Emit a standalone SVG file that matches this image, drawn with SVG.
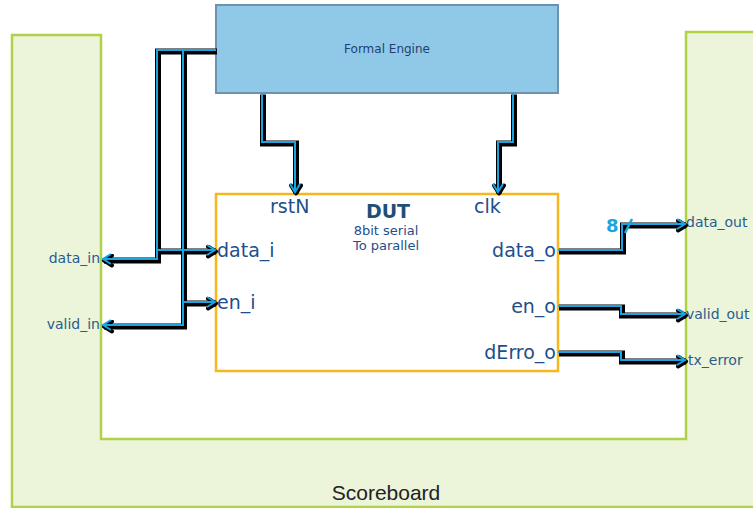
<svg xmlns="http://www.w3.org/2000/svg" xmlns:xlink="http://www.w3.org/1999/xlink" width="753" height="508" viewBox="0 0 753 508">
  <style>
    .board { fill: #ecf4d9; stroke: #afd248; stroke-width: 2.5; }
    .engine { fill: #90c9e8; stroke: #6b93ae; stroke-width: 2; }
    .dut { fill: #ffffff; stroke: #f7b81e; stroke-width: 2.5; }
    .shadow { fill: none; stroke: #000000; stroke-width: 6; stroke-linejoin: miter; }
    .line { fill: none; stroke: #1aa3e3; stroke-width: 2; stroke-linejoin: miter; }
    .t { font-family: "DejaVu Sans", Verdana, sans-serif; }
    .port { font-size: 19px; fill: #1f4e8a; }
    .sig { font-size: 14px; fill: #2b5c8e; }
  </style>
  <defs>
    <marker id="headBlack" viewBox="0 0 14 14" refX="11" refY="7" markerWidth="14" markerHeight="14" markerUnits="userSpaceOnUse" orient="auto">
      <path d="M3,2 L11,7 L3,12" fill="none" stroke="#000" stroke-width="4" stroke-linecap="round" stroke-linejoin="round"/>
    </marker>
    <marker id="headBlue" viewBox="0 0 14 14" refX="11" refY="7" markerWidth="14" markerHeight="14" markerUnits="userSpaceOnUse" orient="auto">
      <path d="M3,2 L11,7 L3,12" fill="none" stroke="#1aa3e3" stroke-width="2"/>
    </marker>
    <path id="w-rst" d="M262,93 V142 H295 V192"/>
    <path id="w-clk" d="M513,93 V142 H498 V192"/>
    <path id="w-din" d="M216,50 H157 V259 H103"/>
    <path id="w-vin" d="M183,50 V325 H103"/>
    <path id="w-di" d="M158,250 H215"/>
    <path id="w-en" d="M183,302 H215"/>
    <path id="w-do" d="M558,250 H622 V224 H685"/>
    <path id="w-eo" d="M558,306 H621 V314 H685"/>
    <path id="w-de" d="M558,352 H621 V360 H685"/>
  </defs>

  <!-- scoreboard U-shaped frame -->
  <g id="scoreboard">
    <path class="board" d="M12,35 H101 V439 H686 V32 H756 V507 H12 Z"/>
    <text x="386" y="500" text-anchor="middle" font-family="Liberation Sans, Arial, sans-serif" font-size="21" fill="#222">Scoreboard</text>
    <text class="t sig" x="100" y="263" text-anchor="end">data_in</text>
    <text class="t sig" x="100" y="329" text-anchor="end">valid_in</text>
    <text class="t sig" x="686" y="227">data_out</text>
    <text class="t sig" x="686" y="319">valid_out</text>
    <text class="t sig" x="688" y="365">tx_error</text>
  </g>

  <!-- formal engine -->
  <g id="formal-engine">
    <rect class="engine" x="216" y="5" width="342" height="88"/>
    <text class="t" x="387" y="53" text-anchor="middle" font-size="12" fill="#1f3f70">Formal Engine</text>
  </g>

  <!-- device under test -->
  <g id="dut">
    <rect class="dut" x="216" y="194" width="342" height="177"/>
    <text class="t" x="388" y="218" text-anchor="middle" font-size="19" font-weight="bold" fill="#1f4e79">DUT</text>
    <text class="t" x="386" y="235" text-anchor="middle" font-size="13" fill="#1f4e8a">8bit serial</text>
    <text class="t" x="386" y="250" text-anchor="middle" font-size="13" fill="#1f4e8a">To parallel</text>
    <text class="t port" x="270" y="213">rstN</text>
    <text class="t port" x="474" y="213">clk</text>
    <text class="t port" x="217" y="257">data_i</text>
    <text class="t port" x="217" y="309">en_i</text>
    <text class="t port" x="556" y="257" text-anchor="end">data_o</text>
    <text class="t port" x="556" y="313" text-anchor="end">en_o</text>
    <text class="t port" x="556" y="359" text-anchor="end">dErro_o</text>
  </g>

  <!-- wires: dark shadow underneath, blue line on top -->
  <g id="connectors">
    <g transform="translate(1,1.5)">
      <use xlink:href="#w-rst" class="shadow" marker-end="url(#headBlack)"/>
      <use xlink:href="#w-clk" class="shadow" marker-end="url(#headBlack)"/>
      <use xlink:href="#w-din" class="shadow" marker-end="url(#headBlack)"/>
      <use xlink:href="#w-vin" class="shadow" marker-end="url(#headBlack)"/>
      <use xlink:href="#w-di" class="shadow" marker-end="url(#headBlack)"/>
      <use xlink:href="#w-en" class="shadow" marker-end="url(#headBlack)"/>
      <use xlink:href="#w-do" class="shadow" marker-end="url(#headBlack)"/>
      <use xlink:href="#w-eo" class="shadow" marker-end="url(#headBlack)"/>
      <use xlink:href="#w-de" class="shadow" marker-end="url(#headBlack)"/>
    </g>
    <use xlink:href="#w-rst" class="line" marker-end="url(#headBlue)"/>
    <use xlink:href="#w-clk" class="line" marker-end="url(#headBlue)"/>
    <use xlink:href="#w-din" class="line" marker-end="url(#headBlue)"/>
    <use xlink:href="#w-vin" class="line" marker-end="url(#headBlue)"/>
    <use xlink:href="#w-di" class="line" marker-end="url(#headBlue)"/>
    <use xlink:href="#w-en" class="line" marker-end="url(#headBlue)"/>
    <use xlink:href="#w-do" class="line" marker-end="url(#headBlue)"/>
    <use xlink:href="#w-eo" class="line" marker-end="url(#headBlue)"/>
    <use xlink:href="#w-de" class="line" marker-end="url(#headBlue)"/>
    <!-- bus width mark on data_o -->
    <line x1="625" y1="233" x2="632" y2="219" stroke="#1aa3e3" stroke-width="2.5"/>
    <text class="t" x="606" y="232" font-size="18" font-weight="bold" fill="#1aa3e3">8</text>
  </g>
</svg>
